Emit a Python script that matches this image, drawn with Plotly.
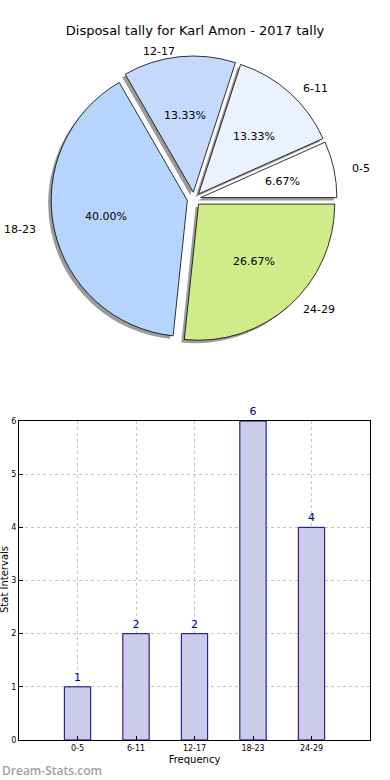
import math
import plotly.graph_objects as go

categories = ["0-5", "6-11", "12-17", "18-23", "24-29"]
counts = [1, 2, 2, 6, 4]
pie_colors = ["#ffffff", "#eaf2ff", "#c5d9ff", "#b5d5ff", "#d0eb8a"]
title_text = "Disposal tally for Karl Amon - 2017 tally"
y_title = "Stat Intervals"
x_title = "Frequency"
watermark = "Dream-Stats.com"

W, H = 390, 780

def fx(x):
    return x / W

def fy(y):
    return 1 - y / H

def px_dom(x0, x1, y0, y1):
    return dict(x=[fx(x0), fx(x1)], y=[fy(y1), fy(y0)])

cx, cy, half = 194, 199, 143
rx, ry = 139, 129   # label-placement radii (pixels)
explode = 0.05
dom = (cx - half, cx + half, cy - half, cy + half)

common = dict(labels=categories, values=counts, sort=False,
              direction="counterclockwise", rotation=66, pull=[explode] * 5,
              textinfo="none")

fig = go.Figure()

# shadow pie (offset down-left)
sx, sy = -3, 3
fig.add_trace(go.Pie(
    **common,
    marker=dict(colors=["#8a8a8a"] * 5, line=dict(width=0)),
    hoverinfo="skip", showlegend=False, opacity=0.85,
    domain=px_dom(dom[0] + sx, dom[1] + sx, dom[2] + sy, dom[3] + sy),
))
# main pie
fig.add_trace(go.Pie(
    **common,
    marker=dict(colors=pie_colors, line=dict(color="#000000", width=0.8)),
    showlegend=False,
    domain=px_dom(*dom),
))

# labels and percentages placed from the slice mid-angles
total = sum(counts)
annotations = []
cum = 0
for lab, c in zip(categories, counts):
    mid = math.radians((cum + c / 2) / total * 360)
    cum += c
    cosm, sinm = math.cos(mid), math.sin(mid)
    lx = cx + (1.1 + explode) * rx * cosm
    ly = cy - (1.1 + explode) * ry * sinm
    annotations.append(dict(
        text=lab, x=fx(lx), y=fy(ly), xref="paper", yref="paper",
        xanchor="left" if cosm > 0 else "right", yanchor="middle", showarrow=False,
        font=dict(family="DejaVu Sans", size=11, color="#000000"),
    ))
    px_ = cx + (0.6 + explode) * rx * cosm
    py_ = cy - (0.6 + explode) * ry * sinm
    annotations.append(dict(
        text=f"{c / total * 100:.2f}%", x=fx(px_), y=fy(py_), xref="paper", yref="paper",
        xanchor="center", yanchor="middle", showarrow=False,
        font=dict(family="DejaVu Sans", size=11, color="#000000"),
    ))

annotations.append(dict(
    text=watermark, x=fx(0), y=fy(770), xref="paper", yref="paper",
    xanchor="left", yanchor="middle", showarrow=False,
    font=dict(family="Open Sans", size=12, color="#a0a0a0", weight=600),
))
annotations.append(dict(
    text=y_title, x=fx(4), y=fy(580), xref="paper", yref="paper", textangle=-90,
    xanchor="center", yanchor="middle", showarrow=False,
    font=dict(family="DejaVu Sans", size=10, color="#000000"),
))

# bar chart
fig.add_trace(go.Bar(
    x=categories, y=counts, width=0.45,
    marker=dict(color="#ccccea", line=dict(color="#000080", width=1)),
    text=[str(c) for c in counts], textposition="outside",
    textfont=dict(family="DejaVu Sans", size=11, color="#000080"),
    cliponaxis=False, showlegend=False,
    xaxis="x", yaxis="y",
))

grid = dict(showgrid=True, gridcolor="#c4c4c4", griddash="dot", gridwidth=1)

fig.update_layout(
    width=W, height=H,
    margin=dict(l=0, r=0, t=0, b=0, autoexpand=False),
    paper_bgcolor="white", plot_bgcolor="white",
    font=dict(family="DejaVu Sans", color="#000000"),
    title=dict(text=title_text, x=fx(195), xanchor="center", y=fy(30), yanchor="middle",
               font=dict(family="DejaVu Sans", size=13, color="#000000")),
    xaxis=dict(
        domain=[fx(19), fx(370)], range=[-1, 5], type="category",
        showline=True, linecolor="#000000", linewidth=1, mirror=True,
        **grid,
        ticks="inside", ticklen=4, tickcolor="#000000",
        tickfont=dict(family="DejaVu Sans", size=8),
        title=dict(text=x_title, font=dict(family="DejaVu Sans", size=10), standoff=4),
        fixedrange=True, zeroline=False, automargin=False,
    ),
    yaxis=dict(
        domain=[fy(740), fy(421)], range=[0, 6], dtick=1,
        showline=True, linecolor="#000000", linewidth=1, mirror=True,
        **grid,
        ticks="inside", ticklen=4, tickcolor="#000000",
        tickfont=dict(family="DejaVu Sans", size=8),
        zeroline=False, fixedrange=True, automargin=False,
    ),
    annotations=annotations,
)

fig.write_html("out.html", config={"displayModeBar": False},
               post_script="document.body.style.margin='0';")
